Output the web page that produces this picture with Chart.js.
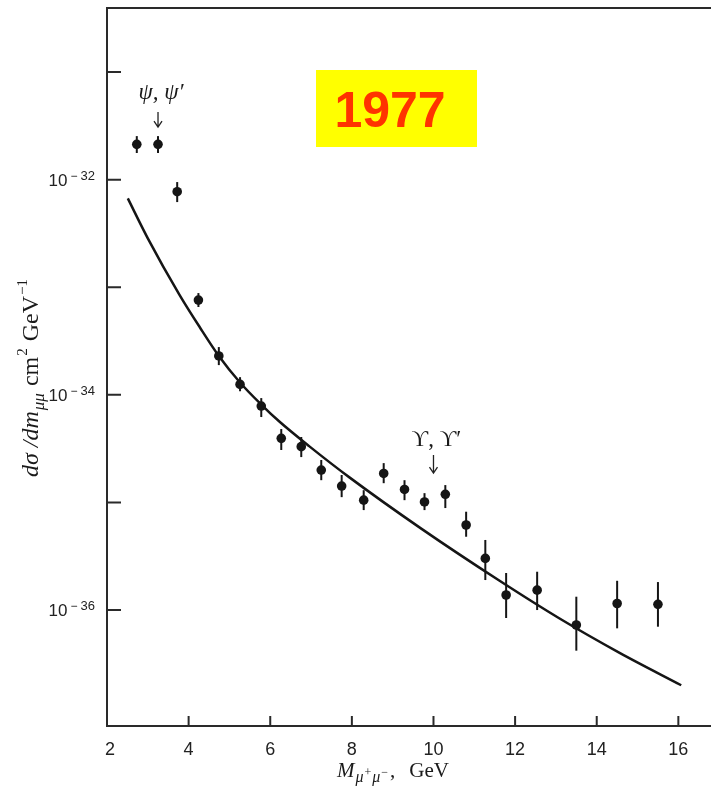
<!DOCTYPE html>
<html>
<head>
<meta charset="utf-8">
<script src="https://cdn.jsdelivr.net/npm/chart.js@4.4.0/dist/chart.umd.min.js"></script>
<style>
  html, body { margin: 0; padding: 0; background: #fff; }
  #wrap { position: relative; width: 711px; height: 791px; }
</style>
</head>
<body>
<div id="wrap"><canvas id="dimuon"></canvas></div>
<script>
// dimuon mass spectrum with the continuum fit
const massGeV = [2.73, 3.25, 3.72, 4.24, 4.74, 5.26, 5.78, 6.27, 6.76, 7.25, 7.75, 8.29,
  8.78, 9.29, 9.78, 10.29, 10.8, 11.27, 11.78, 12.54, 13.5, 14.5, 15.5];
const dSigma = [2.13e-32, 2.13e-32, 7.73e-33, 7.60e-34, 2.30e-34, 1.25e-34, 7.87e-35, 3.94e-35,
  3.30e-35, 2.00e-35, 1.42e-35, 1.05e-35, 1.86e-35, 1.32e-35, 1.01e-35, 1.19e-35, 6.17e-36,
  3.02e-36, 1.38e-36, 1.53e-36, 7.26e-37, 1.15e-36, 1.13e-36];
const dSigmaHi = [2.54e-32, 2.54e-32, 9.5e-33, 8.83e-34, 2.78e-34, 1.46e-34, 9.33e-35, 4.81e-35,
  4.06e-35, 2.48e-35, 1.80e-35, 1.30e-35, 2.32e-35, 1.61e-35, 1.22e-35, 1.45e-35, 8.20e-36,
  4.48e-36, 2.21e-36, 2.27e-36, 1.33e-36, 1.87e-36, 1.82e-36];
const dSigmaLo = [1.77e-32, 1.77e-32, 6.19e-33, 6.55e-34, 1.89e-34, 1.08e-34, 6.22e-35, 3.07e-35,
  2.64e-35, 1.61e-35, 1.12e-35, 8.49e-36, 1.51e-35, 1.05e-35, 8.49e-36, 8.87e-36, 4.80e-36,
  1.90e-36, 8.43e-37, 1.00e-36, 4.19e-37, 6.76e-37, 7.00e-37];

// smooth continuum curve
const fitMass = [2.51, 3.0, 3.78, 4.27, 4.74, 5.27, 5.78, 6.23, 6.96, 7.94, 9.70, 11.62, 13.09, 14.56, 16.07];
const fitSigma = [6.70e-33, 2.85e-33, 8.46e-34, 4.27e-34, 2.30e-34, 1.29e-34, 8.13e-35, 5.62e-35,
  3.32e-35, 1.71e-35, 5.71e-36, 1.87e-36, 8.34e-37, 4.00e-37, 2.00e-37];

const xTicks = [2, 4, 6, 8, 10, 12, 14, 16];
const yDecades = [-31, -32, -33, -34, -35, -36];
const yLabelled = [-32, -34, -36];

// resonance markers
const peakNames = ['ψ, ψ′', 'ϒ, ϒ′'];
const peakMass = [3.25, 10.0];
const peakArrowTop = [4.25e-32, 2.76e-35];
const peakArrowTip = [3.08e-32, 1.87e-35];

const INK = '#151515';
const SERIF = '"Liberation Serif", "DejaVu Serif", serif';
const SANS = '"Liberation Sans", Arial, sans-serif';

// draws runs of text with their own font and vertical offset
function drawRuns(ctx, runs, x, y) {
  let cx = x;
  runs.forEach(([text, font, dy, gap]) => {
    ctx.font = font;
    ctx.fillText(text, cx, y + dy);
    cx += ctx.measureText(text).width + (gap || 0);
  });
  return cx - x;
}

function runsWidth(ctx, runs) {
  let w = 0;
  runs.forEach(([text, font, dy, gap]) => {
    ctx.font = font;
    w += ctx.measureText(text).width + (gap || 0);
  });
  return w;
}

const errorBars = {
  id: 'errorBars',
  beforeDatasetsDraw(chart) {
    const { ctx, scales: { x, y } } = chart;
    ctx.save();
    ctx.strokeStyle = INK;
    ctx.lineWidth = 2;
    massGeV.forEach((m, i) => {
      const px = x.getPixelForValue(m);
      ctx.beginPath();
      ctx.moveTo(px, y.getPixelForValue(dSigmaHi[i]));
      ctx.lineTo(px, y.getPixelForValue(dSigmaLo[i]));
      ctx.stroke();
    });
    ctx.restore();
  }
};

const axesFrame = {
  id: 'axesFrame',
  afterDraw(chart) {
    const { ctx, chartArea: a, scales: { x, y } } = chart;
    ctx.save();
    ctx.strokeStyle = '#2a2a2a';
    ctx.lineWidth = 2;
    ctx.beginPath();
    ctx.moveTo(a.right, a.top);
    ctx.lineTo(a.left, a.top);
    ctx.lineTo(a.left, a.bottom);
    ctx.lineTo(a.right, a.bottom);
    ctx.stroke();

    // inward ticks
    ctx.beginPath();
    yDecades.forEach(d => {
      const py = y.getPixelForValue(Math.pow(10, d));
      ctx.moveTo(a.left, py);
      ctx.lineTo(a.left + 14, py);
    });
    xTicks.slice(1).forEach(v => {
      const px = x.getPixelForValue(v);
      ctx.moveTo(px, a.bottom);
      ctx.lineTo(px, a.bottom - 10);
    });
    ctx.stroke();

    ctx.fillStyle = '#222';
    ctx.textBaseline = 'alphabetic';

    // y tick labels 10^n
    yLabelled.forEach(d => {
      const py = y.getPixelForValue(Math.pow(10, d));
      const runs = [
        ['10', '17px ' + SANS, 6, 3],
        ['\u2212', '12px ' + SANS, 0, 3],
        [String(-d), '13px ' + SANS, 0, 0]
      ];
      const w = runsWidth(ctx, runs);
      ctx.textAlign = 'left';
      drawRuns(ctx, runs, a.left - 12 - w, py);
    });

    // x tick labels
    ctx.textAlign = 'center';
    ctx.font = '18px ' + SANS;
    xTicks.forEach(v => {
      ctx.fillText(String(v), x.getPixelForValue(v) + (v === 2 ? 3 : 0), a.bottom + 29);
    });

    // x title
    ctx.textAlign = 'left';
    ctx.fillStyle = '#1a1a1a';
    const xTitle = [
      ['M', 'italic 21px ' + SERIF, 0, 1],
      ['μ', 'italic 16px ' + SERIF, 5, 1],
      ['+', '12px ' + SERIF, -1, 1],
      ['μ', 'italic 16px ' + SERIF, 5, 1],
      ['\u2212', '12px ' + SERIF, -1, 2],
      [',', '21px ' + SERIF, 0, 14],
      ['GeV', '21px ' + SERIF, 0, 0]
    ];
    drawRuns(ctx, xTitle, 337, a.bottom + 51);

    // y title, rotated
    const yTitle = [
      ['dσ /dm', 'italic 24px ' + SERIF, 0, 1],
      ['μμ', 'italic 17px ' + SERIF, 6, 7],
      ['cm', '24px ' + SERIF, 0, 1],
      ['2', '15px ' + SERIF, -11, 7],
      ['GeV', '24px ' + SERIF, 0, 1],
      ['\u22121', '15px ' + SERIF, -11, 0]
    ];
    const tw = runsWidth(ctx, yTitle);
    ctx.save();
    ctx.translate(38, 378);
    ctx.rotate(-Math.PI / 2);
    drawRuns(ctx, yTitle, -tw / 2, 0);
    ctx.restore();

    // resonance labels with arrows
    peakNames.forEach((name, i) => {
      const px = x.getPixelForValue(peakMass[i]);
      const top = y.getPixelForValue(peakArrowTop[i]);
      const tip = y.getPixelForValue(peakArrowTip[i]);
      ctx.strokeStyle = '#222';
      ctx.lineWidth = 1.3;
      ctx.beginPath();
      ctx.moveTo(px, top);
      ctx.lineTo(px, tip);
      ctx.moveTo(px - 4, tip - 6);
      ctx.lineTo(px, tip);
      ctx.lineTo(px + 4, tip - 6);
      ctx.stroke();
      ctx.font = (i === 0 ? 'italic 23px ' : '23px ') + SERIF;
      ctx.textAlign = 'center';
      ctx.fillText(name, px + 3, top - (i === 0 ? 13 : 9));
    });

    // year badge
    ctx.fillStyle = '#ffff00';
    ctx.fillRect(316, 70, 161, 77);
    ctx.fillStyle = '#ff3300';
    ctx.font = 'bold 50px ' + SANS;
    ctx.textAlign = 'center';
    ctx.fillText('1977', 390, 127);
    ctx.restore();
  }
};

new Chart(document.getElementById('dimuon'), {
  type: 'scatter',
  data: {
    datasets: [
      {
        type: 'line',
        data: fitMass.map((m, i) => ({ x: m, y: fitSigma[i] })),
        borderColor: INK,
        borderWidth: 2.5,
        pointRadius: 0,
        cubicInterpolationMode: 'monotone',
        fill: false,
        order: 2
      },
      {
        data: massGeV.map((m, i) => ({ x: m, y: dSigma[i] })),
        backgroundColor: INK,
        borderWidth: 0,
        pointRadius: 4.8,
        order: 1
      }
    ]
  },
  options: {
    responsive: true,
    maintainAspectRatio: false,
    animation: false,
    layout: { autoPadding: false, padding: { left: 107, top: 8, right: 0, bottom: 65 } },
    plugins: { legend: { display: false }, tooltip: { enabled: false } },
    scales: {
      x: { type: 'linear', min: 2, max: 16.8, display: false },
      y: { type: 'logarithmic', min: 8.36e-38, max: 3.94e-31, display: false }
    }
  },
  plugins: [errorBars, axesFrame]
});
</script>
</body>
</html>
